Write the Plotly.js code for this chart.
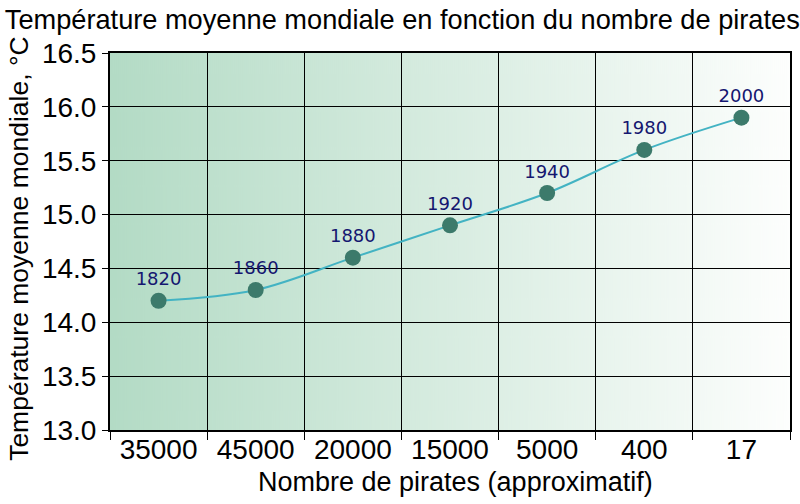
<!DOCTYPE html>
<html><head><meta charset="utf-8">
<script src="https://cdn.plot.ly/plotly-3.0.1.min.js"></script>
<style>body{margin:0;padding:0;background:#fff}#chart{width:800px;height:504px}</style>
</head><body><div id="chart"></div>
<script>
const pirates = ["35000", "45000", "20000", "15000", "5000", "400", "17"];
const temperature = [14.2, 14.3, 14.6, 14.9, 15.2, 15.6, 15.9];
const years = ["1820", "1860", "1880", "1920", "1940", "1980", "2000"];
const yTicks = [13.0, 13.5, 14.0, 14.5, 15.0, 15.5, 16.0, 16.5];

// horizontal gradient background for plot area
const cv = document.createElement('canvas');
cv.width = 680; cv.height = 10;
const cx = cv.getContext('2d');
const g = cx.createLinearGradient(0, 0, 680, 0);
g.addColorStop(0, '#b3dbc5');
g.addColorStop(1, '#fdfefd');
cx.fillStyle = g; cx.fillRect(0, 0, 680, 10);
const bg = cv.toDataURL();

const F = 'Liberation Sans, Arial, sans-serif';

const trace = {
  x: pirates, y: temperature, text: years,
  type: 'scatter', mode: 'lines+markers+text',
  line: {shape: 'spline', color: '#43b3c3', width: 2},
  marker: {size: 16, color: '#3c7a6b'},
  textposition: 'top center',
  textfont: {family: 'DejaVu Sans', size: 18, color: '#141670'},
  hoverinfo: 'none', cliponaxis: false
};

const layout = {
  width: 800, height: 504,
  margin: {l: 110, r: 10, t: 53, b: 74},
  paper_bgcolor: '#ffffff', plot_bgcolor: 'rgba(0,0,0,0)',
  showlegend: false,
  font: {family: F, size: 27, color: '#000'},
  title: {text: 'Température moyenne mondiale en fonction du nombre de pirates',
          xref: 'container', x: 0.006, xanchor: 'left', y: 0.962, yanchor: 'middle',
          font: {family: F, size: 27.2, color: '#000'}},
  xaxis: {
    type: 'category', range: [-0.5, 6.5], tickson: 'boundaries', ticks: 'outside', ticklen: 8,
    tickcolor: '#000', tickwidth: 1, ticklabelstandoff: -7,
    showgrid: true, gridcolor: '#000', gridwidth: 1,
    showline: true, linecolor: '#000', linewidth: 2, mirror: true,
    tickfont: {family: F, size: 28, color: '#000'},
    fixedrange: true
  },
  yaxis: {
    range: [13.0, 16.5], tickvals: yTicks, ticktext: yTicks.map(v => v.toFixed(1)),
    ticks: 'outside', ticklen: 6, tickcolor: '#000',
    showgrid: true, gridcolor: '#000', gridwidth: 1, zeroline: false,
    showline: true, linecolor: '#000', linewidth: 2, mirror: true,
    tickfont: {family: F, size: 28, color: '#000'},
    fixedrange: true
  },
  annotations: [
    {text: 'Nombre de pirates (approximatif)', xref: 'paper', yref: 'paper',
     x: 0.5088, y: -0.138, xanchor: 'center', yanchor: 'middle', showarrow: false,
     font: {family: F, size: 27, color: '#000'}},
    {text: 'Température moyenne mondiale, °C', xref: 'paper', yref: 'paper',
     x: -0.134, y: 0.4828, xanchor: 'center', yanchor: 'middle', textangle: -90, showarrow: false,
     font: {family: F, size: 26.5, color: '#000'}}
  ],
  images: [{source: bg, xref: 'paper', yref: 'paper', x: 0, y: 1, sizex: 1, sizey: 1,
            sizing: 'stretch', xanchor: 'left', yanchor: 'top', layer: 'below'}]
};

Plotly.newPlot('chart', [trace], layout, {displayModeBar: false, staticPlot: true});
</script></body></html>
